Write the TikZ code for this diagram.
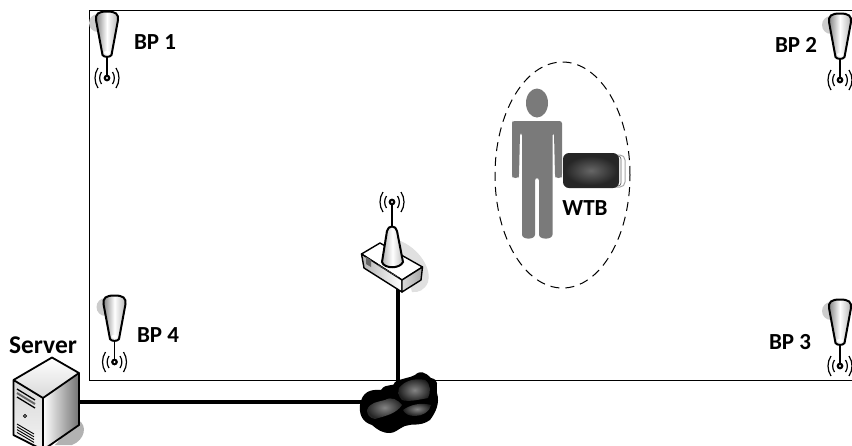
\documentclass[tikz,border=0pt]{standalone}
\usepackage{fontspec}
\setmainfont{Carlito}
\usetikzlibrary{shapes.geometric}
\tikzset{
  lbl/.style={font=\fontsize{23}{25}\selectfont\bfseries,text=black,inner sep=0pt},
  wave/.pic={
    \draw[line width=1.2pt,black] (-5.5,-6) .. controls (-8,-2) and (-8,2) .. (-5.5,6);
    \draw[line width=1.2pt,black] (5.5,-6) .. controls (8,-2) and (8,2) .. (5.5,6);
    \draw[line width=1.2pt,black] (-9,-10) .. controls (-13,-4) and (-13,4) .. (-9,10);
    \draw[line width=1.2pt,black] (9,-10) .. controls (13,-4) and (13,4) .. (9,10);
  },
  bpant/.pic={
    \fill[black!20] (-9,-55) ellipse (9 and 9);
    \draw[line width=1.8pt,black] (0,-23) -- (0,0);
    \fill[black] (0,0) circle (3.4);
    \fill[white] (0,0) circle (1.1);
    \pic {wave};
    \path[draw=black,line width=2pt,left color=black!50,right color=black!30,middle color=white]
      (-4.5,-23) -- (-11,-58) .. controls (-11.5,-64) and (-9,-66.5) .. (0,-66.5)
      .. controls (9,-66.5) and (11.5,-64) .. (11,-58) -- (4.5,-23)
      .. controls (3,-20.5) and (-3,-20.5) .. (-4.5,-23) -- cycle;
    \fill[white] (0,-25.5) ellipse (3.2 and 1.5);
  },
  person/.style={fill=black!52},
  conn/.style={line width=3.2pt,black}
}
\begin{document}
\begin{tikzpicture}[x=1pt,y=-1pt]
\useasboundingbox (0,0) rectangle (852,445);
\clip (0,0) rectangle (852,445);
\fill[white] (0,0) rectangle (852,445);
% named anchors
\coordinate (serverport) at (70,402);
\coordinate (cloudwest) at (370,402);
\coordinate (routerport) at (398,288);
\coordinate (cloudtop) at (398,385);
% room
\draw[line width=1pt,black] (89,10) -- (860,10);
\draw[line width=1pt,black] (89,10) -- (89,380.5) -- (860,380.5);
% connectors
\draw[conn] (serverport) -- (cloudwest);
\draw[conn] (routerport) -- (cloudtop);
% beacon points
\pic at (107,78) {bpant};
\pic at (840,80) {bpant};
\pic at (840,366) {bpant};
\pic at (114.5,362) {bpant};
\node[lbl] (bp1) at (155,42) {BP 1};
\node[lbl] (bp2) at (796,45) {BP 2};
\node[lbl] (bp3) at (790,342) {BP 3};
\node[lbl] (bp4) at (158,335) {BP 4};
% ellipse
\node[ellipse,draw=black,line width=1pt,dash pattern=on 9pt off 6pt,minimum width=135pt,minimum height=226pt,inner sep=0pt] (zone) at (562.5,175) {};
% person
\fill[person] (537,103) ellipse (11 and 14.5);
\fill[person,rounded corners=2.5pt]
  (512,123) -- (512,121) -- (562,121) -- (562,176) -- (561,178) -- (556,178) -- (555,176) -- (554,133)
  -- (552.5,133) -- (552.5,232) .. controls (552.5,240) and (539,240) .. (539,232) -- (539,178) -- (535,178)
  -- (535,232) .. controls (535,240) and (522,240) .. (522,232) -- (522,133) -- (520,133) -- (519,176)
  -- (518,178) -- (513,178) -- (512,176) -- cycle;
% device
\draw[black!35,fill=white,line width=1pt,rounded corners=5pt] (590,155) rectangle (625,187);
\draw[black!60,line width=0.7pt,rounded corners=3pt] (612,156) -- (621,156) -- (621,186) -- (612,186);
\fill[black!85,rounded corners=6pt] (563,153) rectangle (619,188);
\shade[inner color=black!60,outer color=black!85,rounded corners=4pt] (565,156) rectangle (617,185);
\node[lbl] (wtb) at (585,208) {WTB};
% router
\fill[black!12] (398,240) .. controls (420,248) and (432,270) .. (428,282) .. controls (425,290) and (418,293) .. (412,292) -- cycle;
\draw[line width=1.4pt,black,fill=white,line join=round] (361.5,254) -- (380,243) -- (422.5,267) -- (402,280) -- cycle;
\draw[line width=1.4pt,black,line join=round,left color=black!30,right color=white] (361.5,254) -- (364,268) -- (402,292) -- (402,280) -- cycle;
\draw[line width=1.4pt,black,line join=round,left color=black!15,right color=black!35] (402,280) -- (402,292) -- (421,280) -- (422.5,267) -- cycle;
\fill[black!60] (366,257) -- (371,260) -- (371,267) -- (366,264) -- cycle;
\draw[black!70,line width=1.2pt,dash pattern=on 1.5pt off 1pt] (378,265) -- (398,277);
\draw[line width=1.8pt,black] (392,200) -- (392,228);
\path[draw=black,line width=2pt,left color=black!30,right color=black!25,middle color=white]
  (387,231) -- (382,262) .. controls (384,269) and (400,269) .. (403,262) -- (397,231)
  .. controls (396,225) and (388,225) .. (387,231) -- cycle;
\fill[black] (392,202) circle (3.4);
\fill[white] (392,202) circle (1.1);
\pic at (392,202) {wave};
% server
\fill[black!30] (78,420) .. controls (88,425) and (85,440) .. (72,445) -- (55,445) -- cycle;
\shade[top color=white,bottom color=black!15] (13.5,380) -- (52,357.5) -- (79,373) -- (43,398) -- cycle;
\draw[line width=1.8pt,black,line join=round,top color=black!15,bottom color=black!5] (13.5,380) -- (43,398) -- (43,450) -- (13.5,435) -- cycle;
\draw[line width=1.8pt,black,line join=round,left color=white,right color=black!55] (43,398) -- (79,373) -- (79,425) -- (43,450) -- cycle;
\draw[line width=1.8pt,black,line join=round] (13.5,380) -- (52,357.5) -- (79,373);
\draw[line width=1.3pt,black] (17,389) -- (35,400);
\draw[line width=2pt,black!60] (17,393) -- (35,404);
\draw[line width=1.3pt,black] (17,397) -- (35,408);
\draw[black,line width=.7pt,fill=black!30] (25,416) circle (1.7);
\foreach \d in {0,2.8,5.6,8.4}
  \draw[line width=.9pt,black] (17,{424+\d}) -- (34,{434+\d});
\node[lbl,font=\fontsize{25.5}{28}\selectfont\bfseries] (server) at (43,345) {Server};
% cloud
\path[fill=black] (360,405) .. controls (362,392) and (370,389) .. (381,390)
  .. controls (386,382) and (395,388) .. (395,382) .. controls (402,378) and (410,378) .. (415,375)
  .. controls (420,370) and (425,372) .. (431,378) .. controls (440,380) and (436,385) .. (437,393)
  .. controls (440,403) and (436,412) .. (430,420) .. controls (420,427) and (412,423) .. (405,426)
  .. controls (398,429) and (395,433) .. (390,433) .. controls (382,433) and (378,430) .. (372,425)
  .. controls (362,422) and (359,414) .. (360,405) -- cycle;
\shade[inner color=black!48,outer color=black!85] (367,410) .. controls (370,402) and (378,402) .. (385,400)
  .. controls (392,396) and (398,400) .. (402,405) .. controls (396,414) and (385,416) .. (375,419) .. controls (369,418) and (367,414) .. (367,410) -- cycle;
\shade[inner color=black!48,outer color=black!88] (399,388) .. controls (405,380) and (416,378) .. (425,380)
  .. controls (431,384) and (431,392) .. (428,398) .. controls (418,400) and (408,402) .. (402,400) .. controls (398,396) and (398,392) .. (399,388) -- cycle;
\shade[inner color=black!48,outer color=black!88] (403,410) .. controls (410,405) and (420,402) .. (431,405)
  .. controls (430,412) and (422,416) .. (415,416) .. controls (409,416) and (405,414) .. (403,410) -- cycle;
\node[inner sep=0pt,minimum size=0pt] (cloud) at (398,405) {};
\end{tikzpicture}
\end{document}
